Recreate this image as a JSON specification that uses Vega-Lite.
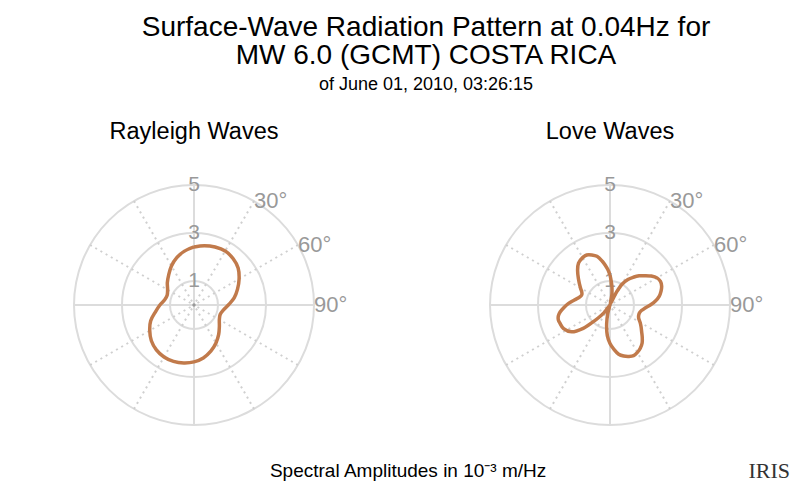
{
  "$schema": "https://vega.github.io/schema/vega-lite/v6.json",
  "padding": {"left": 62, "top": 13, "right": 5, "bottom": 5},
  "config": {"view": {"stroke": null}, "font": "Liberation Sans"},
  "title": {
    "text": ["Surface-Wave Radiation Pattern at 0.04Hz for", "MW 6.0 (GCMT) COSTA RICA"],
    "subtitle": "of June 01, 2010, 03:26:15",
    "fontSize": 28,
    "fontWeight": "normal",
    "lineHeight": 28.5,
    "color": "black",
    "subtitleFontSize": 18,
    "subtitleColor": "black",
    "subtitlePadding": 5.5,
    "anchor": "middle",
    "offset": 26
  },
  "datasets": {
    "rings": [{"r": 1}, {"r": 3}, {"r": 5}],
    "axes": [{"az": 0}, {"az": 90}, {"az": 180}, {"az": 270}],
    "spokes": [{"az": 30}, {"az": 60}, {"az": 120}, {"az": 150}, {"az": 210}, {"az": 240}, {"az": 300}, {"az": 330}],
    "origin": [{"r": 0}],
    "ringlabels": [{"label": "1", "r": 1}, {"label": "3", "r": 3}, {"label": "5", "r": 5}],
    "anglelabels": [{"label": "30°", "az": 30}, {"label": "60°", "az": 60}, {"label": "90°", "az": 90}],
    "rayleigh": [
      {"az": 0, "amp": 2.42}, {"az": 10, "amp": 2.51}, {"az": 20, "amp": 2.57}, {"az": 30, "amp": 2.6},
      {"az": 40, "amp": 2.53}, {"az": 50, "amp": 2.4}, {"az": 60, "amp": 2.17}, {"az": 70, "amp": 1.93},
      {"az": 80, "amp": 1.7}, {"az": 90, "amp": 1.43}, {"az": 100, "amp": 1.24}, {"az": 110, "amp": 1.16},
      {"az": 120, "amp": 1.22}, {"az": 130, "amp": 1.38}, {"az": 140, "amp": 1.6}, {"az": 150, "amp": 1.83},
      {"az": 160, "amp": 2.05}, {"az": 170, "amp": 2.24}, {"az": 180, "amp": 2.37}, {"az": 190, "amp": 2.45},
      {"az": 200, "amp": 2.5}, {"az": 210, "amp": 2.5}, {"az": 220, "amp": 2.44}, {"az": 230, "amp": 2.32},
      {"az": 240, "amp": 2.13}, {"az": 250, "amp": 1.92}, {"az": 260, "amp": 1.63}, {"az": 270, "amp": 1.42},
      {"az": 280, "amp": 1.24}, {"az": 290, "amp": 1.19}, {"az": 300, "amp": 1.27}, {"az": 310, "amp": 1.45},
      {"az": 320, "amp": 1.64}, {"az": 330, "amp": 1.88}, {"az": 340, "amp": 2.1}, {"az": 350, "amp": 2.28},
      {"az": 360, "amp": 2.42}
    ],
    "love": [
      {"az": 0, "amp": 1.25}, {"az": 5, "amp": 0.84}, {"az": 10, "amp": 0.45}, {"az": 15, "amp": 0.04},
      {"az": 19, "amp": 0.1}, {"az": 23, "amp": 0.04}, {"az": 27, "amp": 0.61}, {"az": 30, "amp": 1.0},
      {"az": 35, "amp": 1.3}, {"az": 40, "amp": 1.51}, {"az": 45, "amp": 1.72}, {"az": 50, "amp": 1.9},
      {"az": 55, "amp": 2.1}, {"az": 60, "amp": 2.26}, {"az": 65, "amp": 2.32}, {"az": 70, "amp": 2.29},
      {"az": 75, "amp": 2.2}, {"az": 80, "amp": 2.08}, {"az": 85, "amp": 1.9}, {"az": 90, "amp": 1.68},
      {"az": 95, "amp": 1.47}, {"az": 100, "amp": 1.33}, {"az": 105, "amp": 1.27}, {"az": 110, "amp": 1.27},
      {"az": 115, "amp": 1.32}, {"az": 120, "amp": 1.45}, {"az": 125, "amp": 1.58}, {"az": 130, "amp": 1.72},
      {"az": 135, "amp": 1.9}, {"az": 140, "amp": 2.08}, {"az": 145, "amp": 2.2}, {"az": 150, "amp": 2.28},
      {"az": 155, "amp": 2.33}, {"az": 160, "amp": 2.28}, {"az": 165, "amp": 2.2}, {"az": 170, "amp": 2.08},
      {"az": 175, "amp": 1.85}, {"az": 180, "amp": 1.6}, {"az": 185, "amp": 1.28}, {"az": 190, "amp": 0.8},
      {"az": 195, "amp": 0.35}, {"az": 199, "amp": 0.03}, {"az": 203, "amp": 0.1}, {"az": 207, "amp": 0.12},
      {"az": 211, "amp": 0.05}, {"az": 214, "amp": 0.02}, {"az": 218, "amp": 0.4}, {"az": 222, "amp": 0.7},
      {"az": 225, "amp": 0.98}, {"az": 229, "amp": 1.48}, {"az": 235, "amp": 1.95}, {"az": 243, "amp": 2.17},
      {"az": 250, "amp": 2.22}, {"az": 254, "amp": 2.24}, {"az": 258, "amp": 2.2}, {"az": 262, "amp": 2.1},
      {"az": 267, "amp": 1.92}, {"az": 272, "amp": 1.74}, {"az": 278, "amp": 1.5}, {"az": 285, "amp": 1.3},
      {"az": 290, "amp": 1.25}, {"az": 295, "amp": 1.3}, {"az": 300, "amp": 1.42}, {"az": 310, "amp": 1.72},
      {"az": 317, "amp": 1.98}, {"az": 323, "amp": 2.18}, {"az": 330, "amp": 2.28}, {"az": 335, "amp": 2.3},
      {"az": 340, "amp": 2.22}, {"az": 345, "amp": 2.1}, {"az": 350, "amp": 1.85}, {"az": 353, "amp": 1.68},
      {"az": 357, "amp": 1.45}, {"az": 360, "amp": 1.25}
    ]
  },
  "vconcat": [
    {
      "hconcat": [
        {
          "title": {"text": "Rayleigh Waves", "fontSize": 23.5, "fontWeight": "normal", "color": "black", "anchor": "middle", "baseline": "bottom", "offset": 6},
          "width": 264,
          "height": 264,
          "layer": [
            {
              "data": {"name": "rings"},
              "mark": {"type": "point", "shape": "circle", "filled": false, "stroke": "#dcdcdc", "strokeWidth": 2, "opacity": 1},
              "encoding": {
                "x": {"datum": 0, "type": "quantitative", "scale": {"domain": [-5.5, 5.5], "nice": false}, "axis": null},
                "y": {"datum": 0, "type": "quantitative", "scale": {"domain": [-5.5, 5.5], "nice": false}, "axis": null},
                "size": {"field": "r", "type": "quantitative", "legend": null, "scale": {"type": "pow", "exponent": 2, "domain": [0, 5.5], "range": [0, 69696], "zero": true, "nice": false}}
              }
            },
            {
              "data": {"name": "spokes"},
              "transform": [
                {"calculate": "5*sin(datum.az*PI/180)", "as": "ex"},
                {"calculate": "5*cos(datum.az*PI/180)", "as": "ey"}
              ],
              "mark": {"type": "rule", "stroke": "#cfcfcf", "strokeWidth": 2, "strokeDash": [2, 4]},
              "encoding": {
                "x": {"field": "ex", "type": "quantitative"},
                "y": {"field": "ey", "type": "quantitative"},
                "x2": {"datum": 0},
                "y2": {"datum": 0}
              }
            },
            {
              "data": {"name": "axes"},
              "transform": [
                {"calculate": "5*sin(datum.az*PI/180)", "as": "ex"},
                {"calculate": "5*cos(datum.az*PI/180)", "as": "ey"}
              ],
              "mark": {"type": "rule", "stroke": "#dcdcdc", "strokeWidth": 2},
              "encoding": {
                "x": {"field": "ex", "type": "quantitative"},
                "y": {"field": "ey", "type": "quantitative"},
                "x2": {"datum": 0},
                "y2": {"datum": 0}
              }
            },
            {
              "data": {"name": "origin"},
              "mark": {"type": "point", "filled": true, "color": "#999999", "size": 12, "opacity": 1},
              "encoding": {"x": {"field": "r", "type": "quantitative"}, "y": {"field": "r", "type": "quantitative"}}
            },
            {
              "data": {"name": "ringlabels"},
              "mark": {"type": "text", "fontSize": 21, "color": "#999999", "align": "center", "baseline": "middle"},
              "encoding": {"x": {"datum": 0, "type": "quantitative"}, "y": {"field": "r", "type": "quantitative"}, "text": {"field": "label"}}
            },
            {
              "data": {"name": "anglelabels"},
              "transform": [
                {"calculate": "5*sin(datum.az*PI/180)", "as": "lx"},
                {"calculate": "5*cos(datum.az*PI/180)", "as": "ly"}
              ],
              "mark": {"type": "text", "fontSize": 22, "color": "#999999", "align": "left", "baseline": "middle"},
              "encoding": {"x": {"field": "lx", "type": "quantitative"}, "y": {"field": "ly", "type": "quantitative"}, "text": {"field": "label"}}
            },
            {
              "data": {"name": "rayleigh"},
              "transform": [
                {"calculate": "datum.amp*sin(datum.az*PI/180)", "as": "px"},
                {"calculate": "datum.amp*cos(datum.az*PI/180)", "as": "py"}
              ],
              "mark": {"type": "line", "color": "#c17a4b", "strokeWidth": 3.5, "interpolate": "catmull-rom"},
              "encoding": {
                "x": {"field": "px", "type": "quantitative"},
                "y": {"field": "py", "type": "quantitative"},
                "order": {"field": "az", "type": "quantitative"}
              }
            }
          ]
        },
        {
          "title": {"text": "Love Waves", "fontSize": 23.5, "fontWeight": "normal", "color": "black", "anchor": "middle", "baseline": "bottom", "offset": 6},
          "width": 264,
          "height": 264,
          "layer": [
            {
              "data": {"name": "rings"},
              "mark": {"type": "point", "shape": "circle", "filled": false, "stroke": "#dcdcdc", "strokeWidth": 2, "opacity": 1},
              "encoding": {
                "x": {"datum": 0, "type": "quantitative", "scale": {"domain": [-5.5, 5.5], "nice": false}, "axis": null},
                "y": {"datum": 0, "type": "quantitative", "scale": {"domain": [-5.5, 5.5], "nice": false}, "axis": null},
                "size": {"field": "r", "type": "quantitative", "legend": null, "scale": {"type": "pow", "exponent": 2, "domain": [0, 5.5], "range": [0, 69696], "zero": true, "nice": false}}
              }
            },
            {
              "data": {"name": "spokes"},
              "transform": [
                {"calculate": "5*sin(datum.az*PI/180)", "as": "ex"},
                {"calculate": "5*cos(datum.az*PI/180)", "as": "ey"}
              ],
              "mark": {"type": "rule", "stroke": "#cfcfcf", "strokeWidth": 2, "strokeDash": [2, 4]},
              "encoding": {
                "x": {"field": "ex", "type": "quantitative"},
                "y": {"field": "ey", "type": "quantitative"},
                "x2": {"datum": 0},
                "y2": {"datum": 0}
              }
            },
            {
              "data": {"name": "axes"},
              "transform": [
                {"calculate": "5*sin(datum.az*PI/180)", "as": "ex"},
                {"calculate": "5*cos(datum.az*PI/180)", "as": "ey"}
              ],
              "mark": {"type": "rule", "stroke": "#dcdcdc", "strokeWidth": 2},
              "encoding": {
                "x": {"field": "ex", "type": "quantitative"},
                "y": {"field": "ey", "type": "quantitative"},
                "x2": {"datum": 0},
                "y2": {"datum": 0}
              }
            },
            {
              "data": {"name": "origin"},
              "mark": {"type": "point", "filled": true, "color": "#999999", "size": 12, "opacity": 1},
              "encoding": {"x": {"field": "r", "type": "quantitative"}, "y": {"field": "r", "type": "quantitative"}}
            },
            {
              "data": {"name": "ringlabels"},
              "mark": {"type": "text", "fontSize": 21, "color": "#999999", "align": "center", "baseline": "middle"},
              "encoding": {"x": {"datum": 0, "type": "quantitative"}, "y": {"field": "r", "type": "quantitative"}, "text": {"field": "label"}}
            },
            {
              "data": {"name": "anglelabels"},
              "transform": [
                {"calculate": "5*sin(datum.az*PI/180)", "as": "lx"},
                {"calculate": "5*cos(datum.az*PI/180)", "as": "ly"}
              ],
              "mark": {"type": "text", "fontSize": 22, "color": "#999999", "align": "left", "baseline": "middle"},
              "encoding": {"x": {"field": "lx", "type": "quantitative"}, "y": {"field": "ly", "type": "quantitative"}, "text": {"field": "label"}}
            },
            {
              "data": {"name": "love"},
              "transform": [
                {"calculate": "datum.amp*sin(datum.az*PI/180)", "as": "px"},
                {"calculate": "datum.amp*cos(datum.az*PI/180)", "as": "py"}
              ],
              "mark": {"type": "line", "color": "#c17a4b", "strokeWidth": 3.5, "interpolate": "catmull-rom"},
              "encoding": {
                "x": {"field": "px", "type": "quantitative"},
                "y": {"field": "py", "type": "quantitative"},
                "order": {"field": "az", "type": "quantitative"}
              }
            }
          ]
        }
      ],
      "spacing": 152,
      "bounds": "flush"
    },
    {
      "width": 680,
      "height": 20,
      "data": {"values": [{"caption": "Spectral Amplitudes in 10⁻³ m/Hz", "logo": "IRIS"}]},
      "layer": [
        {
          "mark": {"type": "text", "fontSize": 19, "color": "black", "baseline": "middle"},
          "encoding": {
            "x": {"datum": 0.509, "type": "quantitative", "scale": {"domain": [0, 1], "nice": false}, "axis": null},
            "text": {"field": "caption"}
          }
        },
        {
          "mark": {"type": "text", "font": "Liberation Serif", "fontSize": 22, "color": "#333333", "baseline": "middle"},
          "encoding": {
            "x": {"datum": 1.04, "type": "quantitative"},
            "text": {"field": "logo"}
          }
        }
      ]
    }
  ],
  "spacing": 23
}
